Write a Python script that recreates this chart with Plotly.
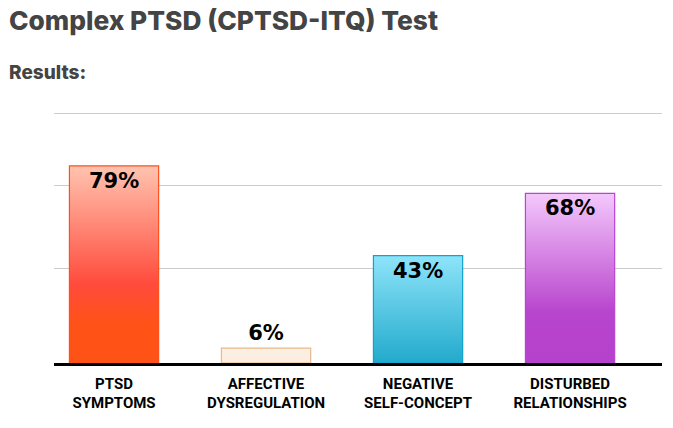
import plotly.graph_objects as go

# data
categories = ["PTSD<br>SYMPTOMS", "AFFECTIVE<br>DYSREGULATION",
              "NEGATIVE<br>SELF-CONCEPT", "DISTURBED<br>RELATIONSHIPS"]
scores = [79, 6, 43, 68]
grid_values = [38, 71, 100]

# styles
bar_width = 0.587
x_range = [-0.395, 3.605]
y_range = [0, 101]
fill_scales = [
    [[0, "#ff5216"], [0.2, "#ff5218"], [0.4, "#ff4b3c"], [1, "#ffc4b0"]],
    [[0, "#fbeddf"], [1, "#fcf0e3"]],
    [[0, "#22aacc"], [1, "#8ee4fa"]],
    [[0, "#b641cc"], [0.3, "#b845cd"], [1, "#f4c8fc"]],
]
line_colors = ["#ff4f1a", "#e8b98b", "#0fa3cf", "#b944d4"]

positions = list(range(len(categories)))

fig = go.Figure()

# gradient fills: one closed polygon per bar, built from its value
for pos, val, scale in zip(positions, scores, fill_scales):
    x0, x1 = pos - bar_width / 2, pos + bar_width / 2
    fig.add_trace(go.Scatter(
        x=[x0, x1, x1, x0, x0], y=[0, 0, val, val, 0],
        mode="lines", line={"width": 0}, fill="toself",
        fillgradient={"type": "vertical", "colorscale": scale},
        hoverinfo="skip", showlegend=False,
    ))

# outlines + value labels (on overlaid axes so they sit above the fills)
fig.add_trace(go.Bar(
    x=positions, y=scores, width=bar_width, xaxis="x2", yaxis="y2",
    marker={"color": "rgba(0,0,0,0)", "line": {"color": line_colors, "width": 1.2}},
    text=[f"{v}%" for v in scores], textposition="auto",
    textfont={"family": "DejaVu Sans", "size": 21, "color": "black", "weight": "bold"},
    insidetextfont={"color": "black"}, outsidetextfont={"color": "black"},
    cliponaxis=False, showlegend=False,
))

fig.update_layout(
    width=673, height=428,
    margin={"l": 54, "r": 11, "t": 111, "b": 65},
    paper_bgcolor="white", plot_bgcolor="white",
    title={"text": "Complex PTSD (CPTSD-ITQ) Test", "xref": "container", "yref": "container",
           "x": 9 / 673, "xanchor": "left", "y": 1 - 21 / 428, "yanchor": "middle",
           "font": {"family": "Inter", "size": 26.3, "color": "#444444", "weight": 800}},
    xaxis={"range": x_range, "tickvals": positions, "ticktext": categories,
           "showgrid": False, "zeroline": False, "showline": True, "linecolor": "black",
           "linewidth": 2.5, "ticks": "", "ticklabelstandoff": 5,
           "tickfont": {"family": "Roboto", "size": 15, "color": "black", "weight": "bold"}},
    yaxis={"range": y_range, "tickvals": grid_values, "showticklabels": False,
           "showgrid": True, "gridcolor": "#cccccc", "gridwidth": 1, "zeroline": False},
    xaxis2={"range": x_range, "overlaying": "x", "visible": False},
    yaxis2={"range": y_range, "overlaying": "y", "visible": False},
    annotations=[
        {"text": "Results:", "xref": "paper", "yref": "paper",
         "x": (7 - 54) / 608, "y": 1 + (111 - 72) / 252, "xanchor": "left", "yanchor": "middle",
         "showarrow": False,
         "font": {"family": "Inter", "size": 19, "color": "#444444", "weight": 800}},
    ],
)

# drop the page's default body margin so the figure fills the window
fig.write_html("out.html", config={"displayModeBar": False},
               post_script="document.body.style.margin = '0';")
